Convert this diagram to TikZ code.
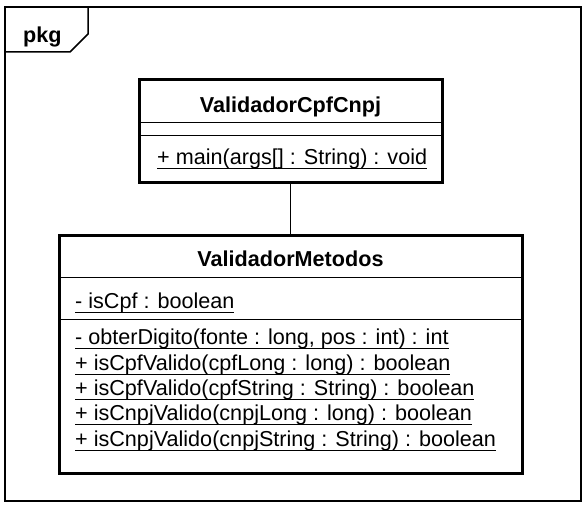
\documentclass[tikz,border=0pt]{standalone}
\usepackage{fontspec}
\setmainfont{Liberation Sans}
\usetikzlibrary{positioning,calc}
% underlined (static) member
\newcommand{\ustatic}[1]{\setbox0\hbox{#1}\rlap{\rule[-4.5pt]{\wd0}{1pt}}\box0}

\begin{document}
\begin{tikzpicture}[x=1pt,y=-1pt,
    classbox/.style={draw, line width=3pt, inner sep=0pt},
    member/.style={anchor=base west, inner sep=0pt, font=\fontsize{21.6}{26}\selectfont},
    classname/.style={anchor=base, inner sep=0pt, font=\fontsize{21.6}{26}\selectfont\bfseries}]
    \useasboundingbox (0,0) rectangle (588,510);

    % package frame
    \draw[line width=1.5pt] (5,7) rectangle (581,501);
    \draw[line width=1.5pt] (5,52) -- (70,52) -- (88,34) -- (88,7);
    \node[classname, anchor=base west] (pkg) at (23,43) {pkg};

    % ValidadorCpfCnpj
    \node[classbox, minimum width=303pt, minimum height=103pt] (cpfcnpj) at (290.5,131.5) {};
    \node[classname] (cpfcnpjname) at (290.5,113) {ValidadorCpfCnpj};
    \draw[line width=1pt] (139,123) -- (442,123);
    \draw[line width=1pt] (139,136) -- (442,136);
    \node[member] (mainop) at (157,165) {\ustatic{+ main(args[] : String) : void}};

    % ValidadorMetodos
    \node[classbox, minimum width=463pt, minimum height=237pt] (metodos) at (290.5,354.5) {};
    \node[classname] (metodosname) at (290.5,266) {ValidadorMetodos};
    \draw[line width=1pt] (59,277) -- (522,277);
    \node[member] (iscpf) at (75,308) {\ustatic{- isCpf : boolean}};
    \draw[line width=1pt] (59,319) -- (522,319);
    \node[member] (obter) at (75,344) {\ustatic{- obterDigito(fonte : long, pos : int) : int}};
    \node[member] (cpflong) at (75,370) {\ustatic{+ isCpfValido(cpfLong : long) : boolean}};
    \node[member] (cpfstring) at (75,395) {\ustatic{+ isCpfValido(cpfString : String) : boolean}};
    \node[member] (cnpjlong) at (75,420) {\ustatic{+ isCnpjValido(cnpjLong : long) : boolean}};
    \node[member] (cnpjstring) at (75,446) {\ustatic{+ isCnpjValido(cnpjString : String) : boolean}};

    % dependency
    \draw[line width=1pt] (cpfcnpj.south) -- (metodos.north);
\end{tikzpicture}
\end{document}
